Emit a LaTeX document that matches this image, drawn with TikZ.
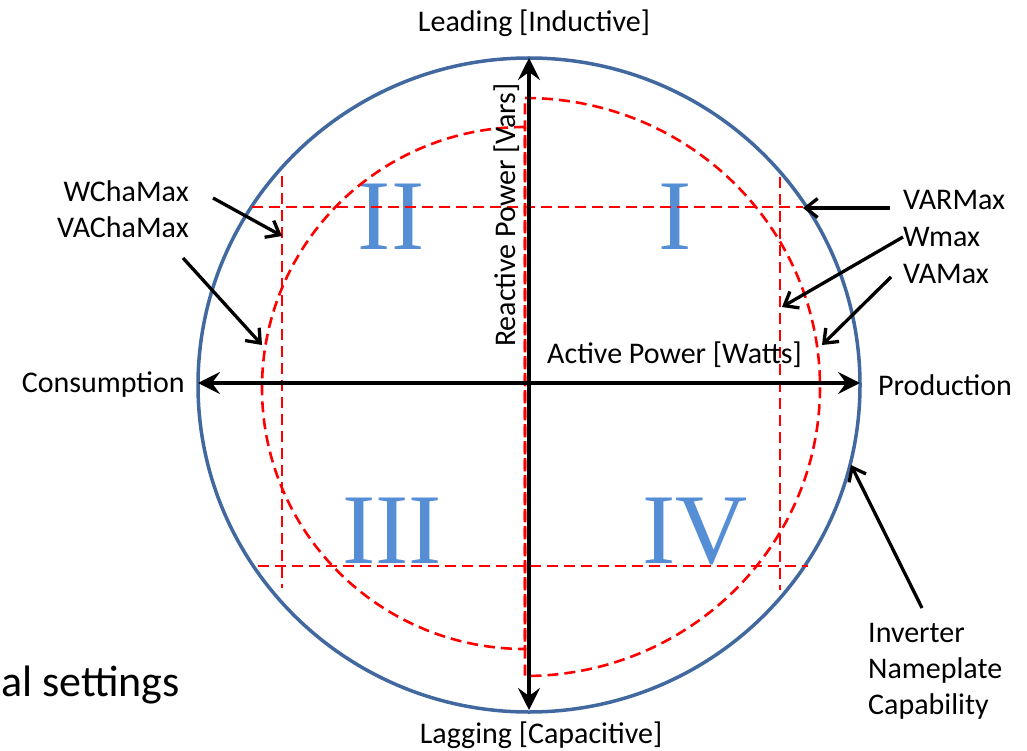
\documentclass[tikz,border=0pt]{standalone}
\usepackage{fontspec}
\setmainfont{Carlito}
\newfontfamily\numfont{Liberation Serif}
\usetikzlibrary{arrows.meta}
\definecolor{ringblue}{RGB}{65,105,160}
\definecolor{numblue}{RGB}{85,142,213}
\definecolor{limred}{RGB}{255,0,0}
\begin{document}
\begin{tikzpicture}[x=1pt,y=-1pt,
  lbl/.style={inner sep=0pt, font=\fontsize{30}{36}\selectfont},
  quad/.style={inner sep=0pt, text=numblue, font=\numfont\fontsize{100}{100}\selectfont, anchor=base},
  axis/.style={line width=3.8pt, black, {Stealth[length=22pt,width=22pt,inset=8pt]}-{Stealth[length=22pt,width=22pt,inset=8pt]}},
  ptr/.style={line width=3.3pt, black, -{Straight Barb[length=12pt,width=19pt]}},
  limit/.style={limred, line width=2.6pt, dash pattern=on 11pt off 6pt},
  ring/.style={ringblue, line width=3.5pt}]
\fill[white] (0,0) rectangle (1027,751);
\useasboundingbox (0,0) rectangle (1027,751);

% quadrant numerals
\node[quad] (q2) at (391,249) {II};
\node[quad] (q1) at (675,249) {I};
\node[quad] (q3) at (392,563) {III};
\node[quad] (q4) at (695,563) {IV};

% nameplate circle
\draw[ring] (529,385) ellipse[x radius=331pt, y radius=327pt];

% limit curves and lines
\draw[limit] (525,98) arc[start angle=90, end angle=-90, x radius=295pt, y radius=289pt] -- cycle;
\draw[limit] (525,127) arc[start angle=90, end angle=270, x radius=263pt, y radius=261pt] -- cycle;
\draw[limit] (252,207) -- (803,207);
\draw[limit] (258,566) -- (808,566);
\draw[limit] (282,176) -- (282,588);
\draw[limit] (780,177) -- (780,590);

% axes
\coordinate (axT) at (529,58);
\coordinate (axB) at (529,710);
\coordinate (axL) at (198,383);
\coordinate (axR) at (860,383);
\draw[axis] (axB) -- (axT);
\draw[axis] (axL) -- (axR);

% labels
\node[lbl, anchor=base] (lead) at (534,32) {Leading [Inductive]};
\node[lbl, anchor=base] (lag) at (541,743) {Lagging [Capacitive]};
\node[lbl, anchor=base east] (cons) at (185,392) {Consumption};
\node[lbl, anchor=base west] (prod) at (878,395) {Production};
\node[lbl, anchor=base west] (act) at (547,363) {Active Power [Watts]};
\node[lbl, anchor=base west, rotate=90] (react) at (515,347) {Reactive Power [Vars]};
\node[lbl, anchor=base east] (wcha) at (189,202) {WChaMax};
\node[lbl, anchor=base east] (vacha) at (189,237) {VAChaMax};
\node[lbl, anchor=base west] (varmax) at (903,210) {VARMax};
\node[lbl, anchor=base west] (wmax) at (903,247) {Wmax};
\node[lbl, anchor=base west] (vamax) at (903,283) {VAMax};
\node[lbl, anchor=base west] (inv1) at (868,642) {Inverter};
\node[lbl, anchor=base west] (inv2) at (868,678) {Nameplate};
\node[lbl, anchor=base west] (inv3) at (868,714) {Capability};
\node[inner sep=0pt, anchor=base east, font=\fontsize{44}{52}\selectfont] (settings) at (180,696) {al settings};

% pointer arrows
\coordinate (wchaS) at (213,198);  \coordinate (wchaT) at (282,236);
\coordinate (vachaS) at (183,258); \coordinate (vachaT) at (262,345);
\coordinate (varS) at (890,208);   \coordinate (varT) at (803,208);
\coordinate (wmaxS) at (903,237);  \coordinate (wmaxT) at (782,307);
\coordinate (vamaxS) at (891,277); \coordinate (vamaxT) at (822,345);
\coordinate (invS) at (922,608);   \coordinate (invT) at (851,465);
\draw[ptr] (wchaS) -- (wchaT);
\draw[ptr] (vachaS) -- (vachaT);
\draw[ptr] (varS) -- (varT);
\draw[ptr] (wmaxS) -- (wmaxT);
\draw[ptr] (vamaxS) -- (vamaxT);
\draw[ptr] (invS) -- (invT);
\end{tikzpicture}
\end{document}
